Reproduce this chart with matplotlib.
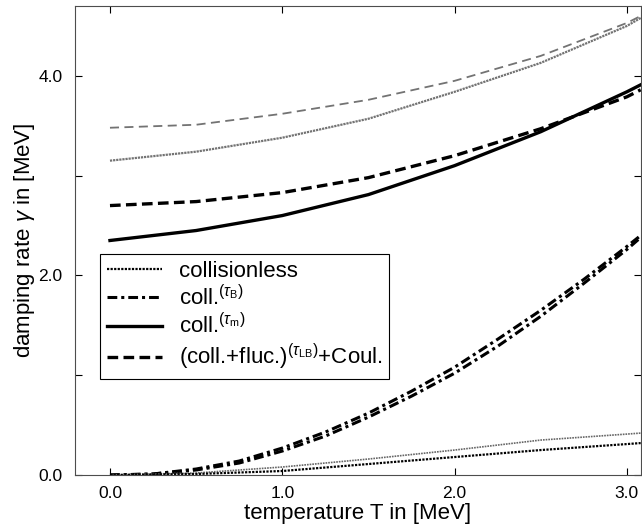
import matplotlib
matplotlib.use("Agg")
import matplotlib.pyplot as plt
from matplotlib.ticker import MultipleLocator, FormatStrFormatter

plt.rcParams['font.family'] = ['Liberation Sans', 'DejaVu Sans']
plt.rcParams['mathtext.fontset'] = 'custom'
plt.rcParams['mathtext.rm'] = 'Liberation Sans'
plt.rcParams['mathtext.it'] = 'Liberation Sans:italic'

# temperature grids [MeV]
T_coarse = [0.0, 0.5, 1.0, 1.5, 2.0, 2.5, 3.0, 3.08]
T_fine = [0.0, 0.25, 0.5, 0.75, 1.0, 1.25, 1.5, 1.75, 2.0, 2.25, 2.5, 2.75, 3.0, 3.08]

# upper (thin, grey) pair
upper_dashed = [3.48, 3.51, 3.62, 3.76, 3.95, 4.20, 4.53, 4.60]
upper_dotted = [3.15, 3.24, 3.38, 3.57, 3.84, 4.13, 4.50, 4.58]

# thick pair
coll_taum = [2.35, 2.45, 2.60, 2.81, 3.10, 3.44, 3.84, 3.91]
coll_fluc = [2.70, 2.74, 2.83, 2.98, 3.20, 3.47, 3.79, 3.86]

# dash-dot pair
coll_taub_a = [0.0, 0.01, 0.06, 0.14, 0.27, 0.43, 0.62, 0.84, 1.08, 1.36, 1.65, 1.96, 2.29, 2.40]
coll_taub_b = [0.0, 0.01, 0.05, 0.12, 0.24, 0.39, 0.58, 0.79, 1.02, 1.29, 1.59, 1.92, 2.26, 2.38]

# collisionless pair
collless_a = [0.0, 0.02, 0.08, 0.16, 0.25, 0.35, 0.41, 0.42]
collless_b = [0.0, 0.01, 0.04, 0.11, 0.18, 0.25, 0.31, 0.32]

labels = ["collisionless",
          r"coll.$^{(\tau_{\rm B})}$",
          r"coll.$^{(\tau_{\rm m})}$",
          r"(coll.+fluc.)$^{(\tau_{\rm LB})}$+Coul."]

dotted = (0, (1, 0.6))
dashdot = (0, (3.2, 1.3, 1.0, 1.3))
dashed = (0, (3.2, 1.6))

fig = plt.figure(figsize=(6.42, 5.27), dpi=100)
ax = fig.add_axes([75 / 642, 1 - 475 / 527, 566 / 642, 469 / 527])

ax.plot(T_coarse, upper_dashed, color='0.45', lw=1.3, ls=(0, (5, 3)))
ax.plot(T_coarse, upper_dotted, color='0.45', lw=1.6, ls=(0, (1, 0.4)))

l_tm, = ax.plot(T_coarse, coll_taum, color='black', lw=2.4, ls='-')
l_fl, = ax.plot(T_coarse, coll_fluc, color='black', lw=2.4, ls=dashed)

l_tb, = ax.plot(T_fine, coll_taub_a, color='black', lw=2.2, ls=dashdot)
ax.plot(T_fine, coll_taub_b, color='black', lw=2.2, ls=dashdot)

ax.plot(T_coarse, collless_a, color='0.4', lw=1.2, ls=dotted)
l_cl, = ax.plot(T_coarse, collless_b, color='black', lw=1.6, ls=dotted)

ax.set_xlim(-0.203, 3.082)
ax.set_ylim(0.0, 4.70)

ax.xaxis.set_major_locator(MultipleLocator(1.0))
ax.yaxis.set_major_locator(MultipleLocator(2.0))
ax.yaxis.set_minor_locator(MultipleLocator(1.0))
ax.xaxis.set_major_formatter(FormatStrFormatter('%.1f'))
ax.yaxis.set_major_formatter(FormatStrFormatter('%.1f'))
ax.tick_params(which='both', direction='in', top=True, right=True,
               length=5, width=0.8, labelsize=12.5)
ax.tick_params(axis='y', pad=9)
ax.tick_params(axis='x', pad=8)
for s in ax.spines.values():
    s.set_linewidth(0.8)
    s.set_color('0.3')

ax.set_xlabel("temperature T in [MeV]", fontsize=16, labelpad=1)
ax.set_ylabel(r"damping rate $\gamma$ in [MeV]", fontsize=16, labelpad=1)

leg = ax.legend([l_cl, l_tb, l_tm, l_fl], labels, loc='lower left',
                bbox_to_anchor=(0.044, 0.205), borderaxespad=0,
                fontsize=16, handlelength=2.5, handletextpad=0.75,
                labelspacing=0.15, borderpad=0.3,
                fancybox=False, framealpha=1, edgecolor='black')
leg.get_frame().set_linewidth(0.8)

fig.savefig("out.png", dpi=100)
